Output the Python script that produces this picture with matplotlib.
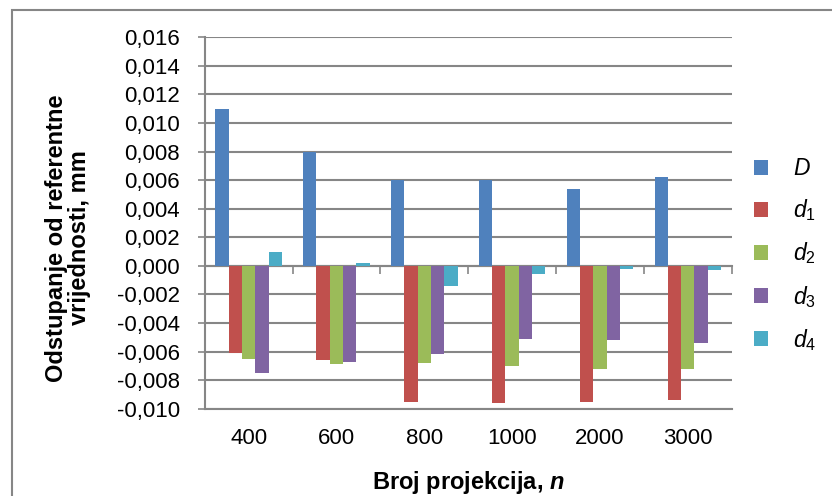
import numpy as np
import matplotlib
matplotlib.use("Agg")
import matplotlib.pyplot as plt
from matplotlib.patches import Rectangle, Patch
from matplotlib.ticker import FuncFormatter, MultipleLocator

plt.rcParams['font.family'] = ['Liberation Sans', 'DejaVu Sans']
plt.rcParams['mathtext.fontset'] = 'custom'
plt.rcParams['mathtext.it'] = 'Liberation Sans:italic'
plt.rcParams['mathtext.rm'] = 'Liberation Sans'
plt.rcParams['mathtext.bf'] = 'Liberation Sans:bold'
plt.rcParams['mathtext.bfit'] = 'Liberation Sans:italic:bold'

# donnees
projekcije = ["400", "600", "800", "1000", "2000", "3000"]
D = [0.0110, 0.0080, 0.0060, 0.0060, 0.0054, 0.0062]
d1 = [-0.0061, -0.0066, -0.0095, -0.0096, -0.0095, -0.0094]
d2 = [-0.0065, -0.0069, -0.0068, -0.0070, -0.0072, -0.0072]
d3 = [-0.0075, -0.0067, -0.0062, -0.0051, -0.0052, -0.0054]
d4 = [0.0010, 0.0002, -0.0014, -0.0006, -0.0002, -0.0003]
serije = [D, d1, d2, d3, d4]
oznake = [r"$D$", r"$d_1$", r"$d_2$", r"$d_3$", r"$d_4$"]
boje = ["#4F81BD", "#C0504D", "#9BBB59", "#8064A2", "#4BACC6"]

W, H = 832, 496
fig = plt.figure(figsize=(W / 100, H / 100), dpi=100)
ax = fig.add_axes([204.7 / W, 1 - 408.7 / H, (731.7 - 204.7) / W, (408.7 - 37.3) / H])

siva = "#868686"
x = np.arange(len(projekcije))
sirina = 0.1515
for i, (vals, boja) in enumerate(zip(serije, boje)):
    ax.bar(x + (i - 2) * sirina, vals, sirina, color=boja, zorder=3)

ymin, ymax = -0.010, 0.016
ax.set_ylim(ymin, ymax)
ax.set_xlim(-0.5, len(projekcije) - 0.5)
ax.yaxis.set_major_locator(MultipleLocator(0.002))
ax.yaxis.set_major_formatter(FuncFormatter(lambda v, p: ("%.3f" % v).replace(".", ",").replace("-0,000", "0,000")))
ax.grid(axis="y", color=siva, linewidth=1.5, zorder=0)
ax.set_axisbelow(True)

for s in ["top", "right"]:
    ax.spines[s].set_visible(False)
ax.spines["left"].set_color(siva)
ax.spines["left"].set_linewidth(1.5)
ax.spines["bottom"].set_color(siva)
ax.spines["bottom"].set_linewidth(1.5)

ax.tick_params(axis="y", direction="out", length=5, width=1.2, color=siva, labelsize=16, pad=13)
ax.set_xticks(x)
ax.set_xticklabels(projekcije)
ax.tick_params(axis="x", length=0, labelsize=16, pad=14)

# os kategorija na nuli
sec = ax.secondary_xaxis(-ymin / (ymax - ymin))
sec.set_xticks(np.arange(len(projekcije) + 1) - 0.5)
sec.set_xticklabels([])
sec.tick_params(direction="out", length=6, width=1.2, color=siva)
sec.spines["bottom"].set_color(siva)
sec.spines["bottom"].set_linewidth(1.5)

ax.set_xlabel(r"Broj projekcija, $\mathbfit{n}$", fontsize=17, fontweight="bold", labelpad=14)
fig.text(68 / W, 1 - 238 / H, "Odstupanje od referentne\nvrijednosti, mm", rotation=90,
         ha="center", va="center", fontsize=17, fontweight="bold", multialignment="center",
         linespacing=1.05)

rukovatelji = [Patch(facecolor=b, edgecolor="none") for b in boje]
fig.legend(rukovatelji, oznake, loc="center left", bbox_to_anchor=(754 / W, 1 - 255 / H),
           frameon=False, fontsize=16.5, handlelength=0.6, handleheight=0.6,
           handletextpad=1.1, labelspacing=0.75, borderpad=0, borderaxespad=0)

okvir = Rectangle((12 / W, -0.1), 1.2, 1 - 10 / H + 0.1, transform=fig.transFigure,
                  fill=False, edgecolor=siva, linewidth=1.5)
fig.patches.append(okvir)

fig.savefig("out.png", dpi=100)
